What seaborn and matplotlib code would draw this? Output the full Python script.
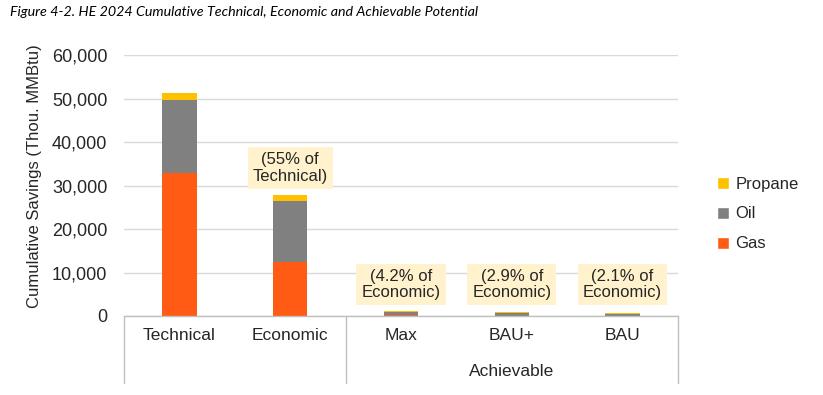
import matplotlib
matplotlib.use("Agg")
import matplotlib.pyplot as plt
from matplotlib.patches import Patch
import seaborn as sns
import pandas as pd

categories = ["Technical", "Economic", "Max", "BAU+", "BAU"]
gas = [32800, 12500, 120, 80, 60]
oil = [16900, 14000, 900, 620, 440]
propane = [1450, 1350, 150, 110, 85]
annotations = ["", "(55% of\nTechnical)", "(4.2% of\nEconomic)", "(2.9% of\nEconomic)", "(2.1% of\nEconomic)"]
group_label = "Achievable"
yticks = [0, 10000, 20000, 30000, 40000, 50000, 60000]

C_GAS = "#FF5B14"
C_OIL = "#808080"
C_PROP = "#FFC000"

sns.set_theme(style="white")
plt.rcParams["font.family"] = ["Liberation Sans", "DejaVu Sans"]

df = pd.DataFrame({"cat": categories, "gas": gas, "oil": oil, "propane": propane})
df["go"] = df["gas"] + df["oil"]
df["tot"] = df["go"] + df["propane"]

fig = plt.figure(figsize=(8.23, 3.95), dpi=100)
ax = fig.add_axes([124 / 823, 79 / 395, 554 / 823, 261 / 395])

bw = 0.31
sns.barplot(data=df, x="cat", y="tot", color=C_PROP, width=bw, ax=ax, saturation=1, edgecolor="none", linewidth=0)
sns.barplot(data=df, x="cat", y="go", color=C_OIL, width=bw, ax=ax, saturation=1, edgecolor="none", linewidth=0)
sns.barplot(data=df, x="cat", y="gas", color=C_GAS, width=bw, ax=ax, saturation=1, edgecolor="none", linewidth=0)

ax.set_ylim(0, 60000)
ax.set_xlim(-0.5, len(categories) - 0.5)
ax.set_yticks(yticks)
ax.set_yticklabels([f"{v:,}" for v in yticks], fontsize=13, color="#262626")
ax.yaxis.grid(True, color="#D9D9D9", linewidth=1)
ax.set_axisbelow(True)
ax.set_xlabel("")
ax.set_ylabel("")
ax.tick_params(axis="y", length=0, pad=12)
ax.tick_params(axis="x", length=0, pad=9, labelsize=12.5, labelcolor="#262626")
for s in ["top", "right", "left"]:
    ax.spines[s].set_visible(False)
ax.spines["bottom"].set_color("#BFBFBF")
ax.spines["bottom"].set_linewidth(1)

# category separators
ybot = -67 / 261
for xs in [-0.5, 1.5, len(categories) - 0.5]:
    ax.plot([xs, xs], [0, ybot], transform=ax.get_xaxis_transform(), color="#BFBFBF",
            linewidth=1, clip_on=False)
ax.text(3, -(372 - 316) / 261, group_label, transform=ax.get_xaxis_transform(),
        ha="center", va="center", fontsize=12.5, color="#262626")

# annotations
ann_y = [None, 34000, 7250, 7250, 7250]
for i, (t, yv) in enumerate(zip(annotations, ann_y)):
    if t:
        ax.text(i, yv, t, ha="center", va="center", fontsize=12, color="#262626",
                linespacing=1.15,
                bbox=dict(boxstyle="square,pad=0.3", facecolor="#FFF2CC", edgecolor="none"))

handles = [Patch(facecolor=C_PROP), Patch(facecolor=C_OIL), Patch(facecolor=C_GAS)]
fig.legend(handles, ["Propane", "Oil", "Gas"], loc="center left",
           bbox_to_anchor=(702 / 823, 1 - 214 / 395), frameon=False, fontsize=12,
           handlelength=0.7, handleheight=0.7, handletextpad=0.4, labelspacing=0.9,
           labelcolor="#262626")

fig.text(35 / 823, 1 - 176 / 395, "Cumulative Savings (Thou. MMBtu)", rotation=90,
         ha="center", va="center", fontsize=12, color="#262626")

fig.text(10 / 823, 1 - 12 / 395,
         "Figure 4-2. HE 2024 Cumulative Technical, Economic and Achievable Potential",
         ha="left", va="center", fontsize=10.3, style="italic", family=["Lato", "DejaVu Sans"],
         color="#000000")

fig.savefig("out.png", dpi=100)
